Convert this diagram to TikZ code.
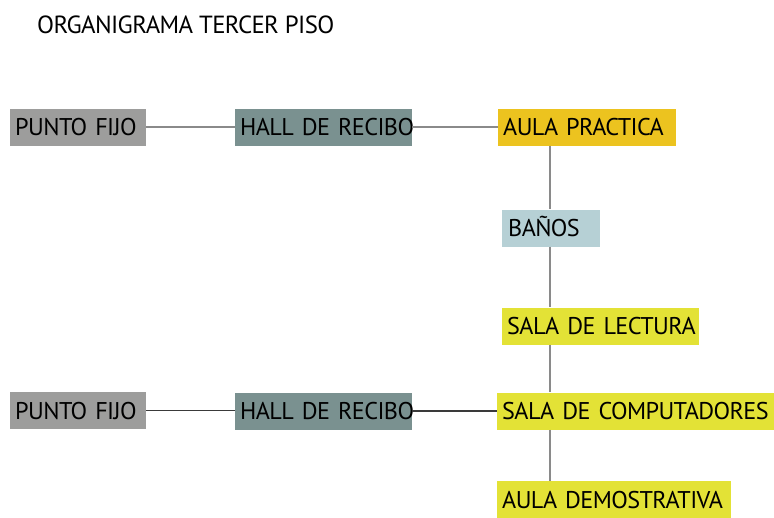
\documentclass[tikz,border=0pt]{standalone}
\usepackage{fontspec}
\setmainfont[LetterSpace=-2.5]{PT Sans}
\definecolor{cpf}{HTML}{9D9D9C}
\definecolor{chall}{HTML}{7A9190}
\definecolor{cap}{HTML}{ECC31F}
\definecolor{cban}{HTML}{B6D0D5}
\definecolor{cyel}{HTML}{E3E236}
\definecolor{clinegray}{HTML}{8A8A8A}
\definecolor{clinedark}{HTML}{3A3A3A}
\newcommand{\boxfont}{\fontsize{24.2}{26}\selectfont}
\newcommand{\ttlfont}{\fontsize{24.8}{26}\selectfont}
\tikzset{
  box/.style={anchor=west, rectangle, inner xsep=5pt, inner ysep=0pt,
    minimum height=37pt, text height=17pt, text depth=0pt, align=left,
    font=\boxfont, text=black},
  lgray/.style={draw=clinegray, line width=1.8pt},
  ldark/.style={draw=clinedark, line width=1.3pt},
}
\begin{document}
\begin{tikzpicture}[x=1pt,y=-1pt]
\useasboundingbox (0,0) rectangle (774,517);
\node[anchor=base west, inner sep=0pt, font=\ttlfont] (title) at (37,33) {ORGANIGRAMA TERCER PISO};
% top row
\node[box, fill=cpf, text width=126pt] (pf1) at (10,127) {\mbox{PUNTO FIJO}};
\node[box, fill=chall, text width=167pt] (hr1) at (235,127) {\mbox{HALL DE RECIBO}};
\node[box, fill=cap, text width=168pt] (ap) at (498,127) {\mbox{AULA PRACTICA}};
\node[box, fill=cban, text width=86pt, inner xsep=6pt] (bn) at (502,228) {\mbox{BAÑOS}};
\node[box, fill=cyel, text width=187pt] (sl) at (502,326) {\mbox{SALA DE LECTURA}};
\node[box, fill=cyel, text width=267pt] (sc) at (497,411) {\mbox{SALA DE COMPUTADORES}};
\node[box, fill=cyel, text width=224pt] (ad) at (497,499.5) {\mbox{AULA DEMOSTRATIVA}};
% bottom row
\node[box, fill=cpf, text width=126pt] (pf2) at (10,410.5) {\mbox{PUNTO FIJO}};
\node[box, fill=chall, text width=167pt] (hr2) at (235,411) {\mbox{HALL DE RECIBO}};
\coordinate (vx) at (550,0);
\draw[lgray] (pf1.east) -- (hr1.west);
\draw[lgray] (hr1.east) -- (ap.west);
\draw[ldark] (pf2.east) -- (pf2.east -| hr2.west);
\draw[ldark] (hr2.east |- sc.west) -- (sc.west);
\draw[lgray] (ap.south -| vx) -- (bn.north -| vx);
\draw[lgray] (bn.south -| vx) -- (sl.north -| vx);
\draw[lgray] (sl.south -| vx) -- (sc.north -| vx);
\draw[lgray] (sc.south -| vx) -- (ad.north -| vx);
\end{tikzpicture}
\end{document}
